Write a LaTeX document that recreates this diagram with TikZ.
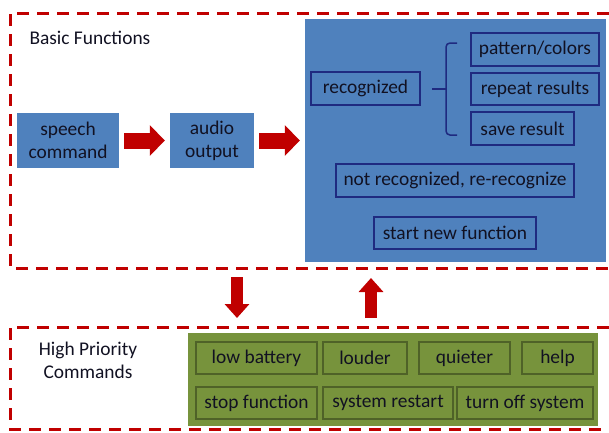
\documentclass[tikz,border=0pt]{standalone}
\usepackage{fontspec}
\setmainfont{Carlito}
\usetikzlibrary{arrows.meta}
\definecolor{dred}{HTML}{C00000}
\definecolor{boxblue}{HTML}{4F81BD}
\definecolor{navy}{HTML}{1F2A80}
\definecolor{olive}{HTML}{77933C}
\definecolor{dolive}{HTML}{4F6228}
\definecolor{ink}{HTML}{111122}
\begin{document}
\begin{tikzpicture}[x=1pt,y=-1pt,
  txt/.style={font=\fontsize{19.4}{23}\selectfont, text=ink},
  frame/.style={draw=dred, line width=3pt, dash pattern=on 12pt off 8pt},
  bbox/.style={txt, fill=boxblue, draw=none, inner sep=0pt, align=center},
  ibox/.style={txt, draw=navy, line width=1.5pt, inner sep=0pt},
  gbox/.style={txt, draw=dolive, line width=1.2pt, inner sep=0pt},
  bigarrow/.style={draw=dred, line width=16pt, -{Triangle[length=15pt,width=30pt]}},
  varrow/.style={draw=dred, line width=12pt, -{Triangle[length=14pt,width=24pt]}},
  ]
\useasboundingbox (0,0) rectangle (609,432);
% dashed frames
\draw[frame] (609,13) -- (10,13) -- (10,268) -- (609,268);
\draw[frame] (609,327) -- (10,327) -- (10,429) -- (609,429);
% labels
\node[txt, anchor=west] (basic) at (26,38) {Basic Functions};
\node[txt, align=center] (hpc) at (88,360) {High Priority\\Commands};
% basic functions
\node[bbox, minimum width=102pt, minimum height=55pt] (speech) at (68,140.5) {speech\\command};
\node[bbox, minimum width=84pt, minimum height=55pt] (audio) at (212,140.5) {audio\\output};
\node[fill=boxblue, minimum width=301pt, minimum height=243pt, inner sep=0pt] (res) at (455.5,140.5) {};
\node[ibox, minimum width=109pt, minimum height=33pt] (rec) at (365.5,88.5) {recognized};
\node[ibox, minimum width=128pt, minimum height=33pt] (pat) at (535,49.5) {pattern/colors};
\node[ibox, minimum width=128pt, minimum height=32pt] (rep) at (535,89) {repeat results};
\node[ibox, minimum width=103pt, minimum height=33pt] (save) at (522.5,128.5) {save result};
\node[ibox, minimum width=238pt, minimum height=33pt] (notrec) at (455,180.5) {not recognized, re-recognize};
\node[ibox, minimum width=162pt, minimum height=32pt] (start) at (455,233) {start new function};
% brace
\coordinate (bt) at (457,43);
\coordinate (bb) at (457,135);
\coordinate (bm) at (432,89);
\draw[navy, line width=1.5pt, rounded corners=4pt] (bt) -- (446,43) -- (446,135) -- (bb);
\draw[navy, line width=1.5pt] (bm) -- (446,89);
% arrows
\draw[bigarrow] ([xshift=5pt]speech.east) -- ([xshift=-5pt]audio.west);
\draw[bigarrow] ([xshift=5pt]audio.east) -- ([xshift=-5pt]res.west);
\coordinate (dtop) at (237,277);
\coordinate (dbot) at (237,318);
\coordinate (ubot) at (371,318);
\coordinate (utop) at (371,278);
\draw[varrow] (dtop) -- (dbot);
\draw[varrow] (ubot) -- (utop);
% high priority
\node[fill=olive, minimum width=410pt, minimum height=93pt, inner sep=0pt] (green) at (393,379.5) {};
\node[gbox, minimum width=121pt, minimum height=32pt] (low) at (256.5,358) {low battery};
\node[gbox, minimum width=84pt, minimum height=32pt] (louder) at (365,358) {louder};
\node[gbox, minimum width=91pt, minimum height=32pt] (quieter) at (464.5,358) {quieter};
\node[gbox, minimum width=71pt, minimum height=32pt] (help) at (557.5,358) {help};
\node[gbox, minimum width=121pt, minimum height=32pt] (stop) at (256.5,403) {stop function};
\node[gbox, minimum width=130pt, minimum height=32pt] (restart) at (388,403) {system restart};
\node[gbox, minimum width=136pt, minimum height=32pt] (turnoff) at (525,403) {turn off system};
\end{tikzpicture}
\end{document}
